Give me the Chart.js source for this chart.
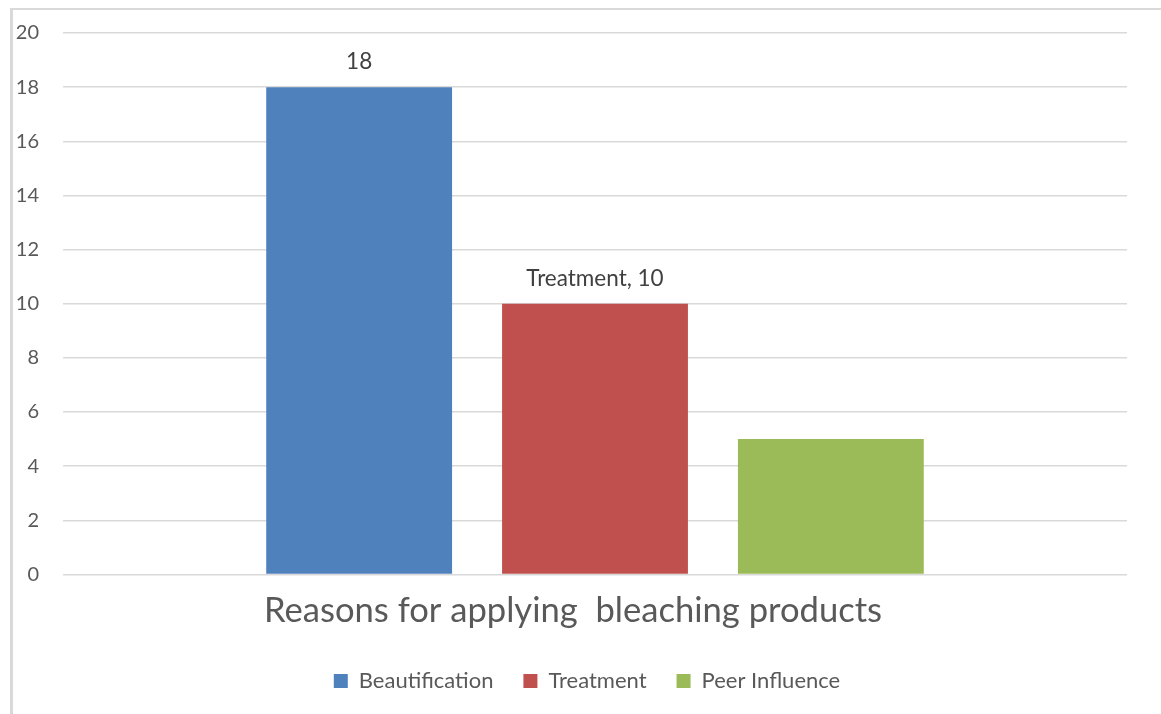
<!DOCTYPE html>
<html>
<head>
<meta charset="utf-8">
<script src="https://cdn.jsdelivr.net/npm/chart.js@4"></script>
<style>
  body { margin: 0; background: #fff; }
  #wrap {
    position: absolute; left: 10px; top: 8px;
    width: 1148px; height: 704px;
    border-left: 3px solid #d9d9d9; border-top: 2px solid #d9d9d9;
  }
</style>
</head>
<body>
<div id="wrap"><canvas id="myChart" width="1148" height="704"></canvas></div>
<script>
const categories = ['Reasons for applying  bleaching products'];
const seriesNames = ['Beautification', 'Treatment', 'Peer Influence'];
const seriesValues = [[18], [10], [5]];
const barLabels = ['18', 'Treatment, 10', ''];
const colors = ['#4F81BD', '#C0504D', '#9BBB59'];
const yTicks = [0, 2, 4, 6, 8, 10, 12, 14, 16, 18, 20];

const font = 'Lato, "Liberation Sans", sans-serif';

// draws the value labels above the bars
const barLabelPlugin = {
  id: 'barLabels',
  afterDatasetsDraw(chart) {
    const ctx = chart.ctx;
    ctx.save();
    ctx.font = '22.5px ' + font;
    ctx.fillStyle = '#404040';
    ctx.textAlign = 'center';
    ctx.textBaseline = 'middle';
    chart.data.datasets.forEach((ds, i) => {
      const text = barLabels[i];
      if (!text) return;
      chart.getDatasetMeta(i).data.forEach((bar) => {
        ctx.fillText(text, bar.x, bar.y - 25);
      });
    });
    ctx.restore();
  }
};

const canvas = document.getElementById('myChart');
new Chart(canvas, {
  type: 'bar',
  data: {
    labels: categories,
    datasets: seriesNames.map((name, i) => ({
      label: name,
      data: seriesValues[i],
      backgroundColor: colors[i],
      categoryPercentage: 0.665,
      barPercentage: 0.788
    }))
  },
  options: {
    responsive: false,
    animation: false,
    layout: { padding: { top: 0, right: 0, left: 0, bottom: 12 } },
    scales: {
      y: {
        min: 0,
        max: 20,
        afterBuildTicks: (axis) => { axis.ticks = yTicks.map((v) => ({ value: v })); },
        afterFit: (axis) => {
          axis.width = 50;
          axis.paddingTop = 23;
          axis.paddingBottom = 0;
        },
        grid: { color: '#d9d9d9', lineWidth: 1.5, drawTicks: false },
        border: { display: false },
        ticks: { color: '#595959', font: { family: font, size: 20 }, padding: 24 }
      },
      x: {
        afterFit: (axis) => {
          axis.paddingLeft = 0;
          axis.paddingRight = 34;
        },
        grid: { display: false },
        border: { display: false },
        ticks: { color: '#595959', font: { family: font, size: 34.6 }, padding: 8, labelOffset: -22 }
      }
    },
    plugins: {
      legend: {
        position: 'bottom',
        labels: {
          color: '#595959',
          font: { family: font, size: 22 },
          boxWidth: 14,
          boxHeight: 14,
          padding: 30
        }
      },
      tooltip: { enabled: false }
    }
  },
  plugins: [barLabelPlugin]
});
</script>
</body>
</html>
